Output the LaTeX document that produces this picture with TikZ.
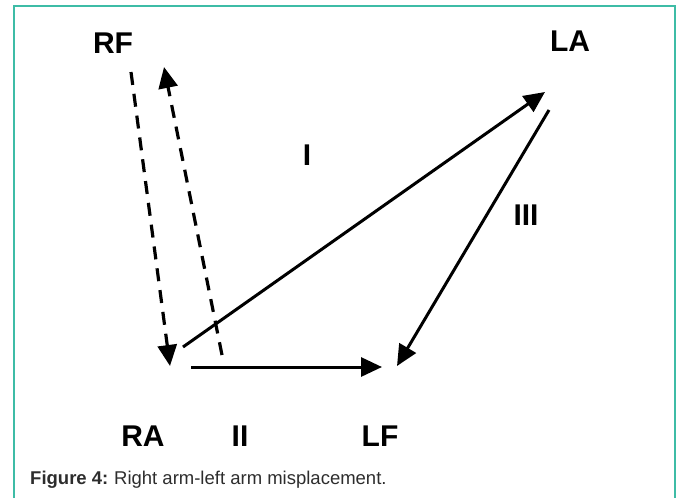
\documentclass[tikz,border=0pt]{standalone}
\usepackage{fontspec}
\setmainfont{Liberation Sans}
\usetikzlibrary{arrows.meta}
\definecolor{frameteal}{RGB}{62,188,166}
\definecolor{captiongray}{RGB}{45,45,45}

\begin{document}
\begin{tikzpicture}[x=1pt, y=-1pt,
    lead/.style={font=\fontsize{30}{30}\selectfont\bfseries, inner sep=0pt},
    wire/.style={line width=3pt, -{Triangle[length=21pt, width=19pt]}},
    swap/.style={wire, dash pattern=on 13pt off 9pt, line width=3.2pt}]
    \useasboundingbox (0,0) rectangle (682,498);
    % frame (open at the bottom)
    \draw[frameteal, line width=2pt] (13.5,498) -- (13.5,5.5) -- (675,5.5) -- (675,498);
    % electrode labels
    \node[lead] (rf) at (113,43) {RF};
    \node[lead] (la) at (570,41) {LA};
    \node[lead] (ra) at (143,436) {RA};
    \node[lead] (lf) at (380,436) {LF};
    % lead labels
    \node[lead] (leadI) at (307,155) {I};
    \node[lead] (leadII) at (240,436) {II};
    \node[lead] (leadIII) at (526,215) {III};
    % arrow ends
    \coordinate (rf-out) at (131,72);
    \coordinate (rf-in) at (164,67);
    \coordinate (ra-in) at (170,366);
    \coordinate (ra-out) at (222,355);
    \coordinate (ra-one) at (183,347);
    \coordinate (ra-two) at (191,367);
    \coordinate (la-in) at (545,92);
    \coordinate (la-out) at (549,110);
    \coordinate (lf-in) at (382,367);
    \coordinate (lf-three) at (397,366);
    % swapped arms, dashed
    \draw[swap] (rf-out) -- (ra-in);
    \draw[swap] (ra-out) -- (rf-in);
    % limb leads
    \draw[wire] (ra-one) -- (la-in);
    \draw[wire] (ra-two) -- (lf-in);
    \draw[wire] (la-out) -- (lf-three);
    % caption
    \node[anchor=base west, inner sep=0pt, text=captiongray,
          font=\fontsize{18.5}{18.5}\selectfont] (cap) at (30,484)
          {\textbf{Figure 4:}\hspace{-1pt} Right arm-left arm misplacement.};
\end{tikzpicture}
\end{document}
